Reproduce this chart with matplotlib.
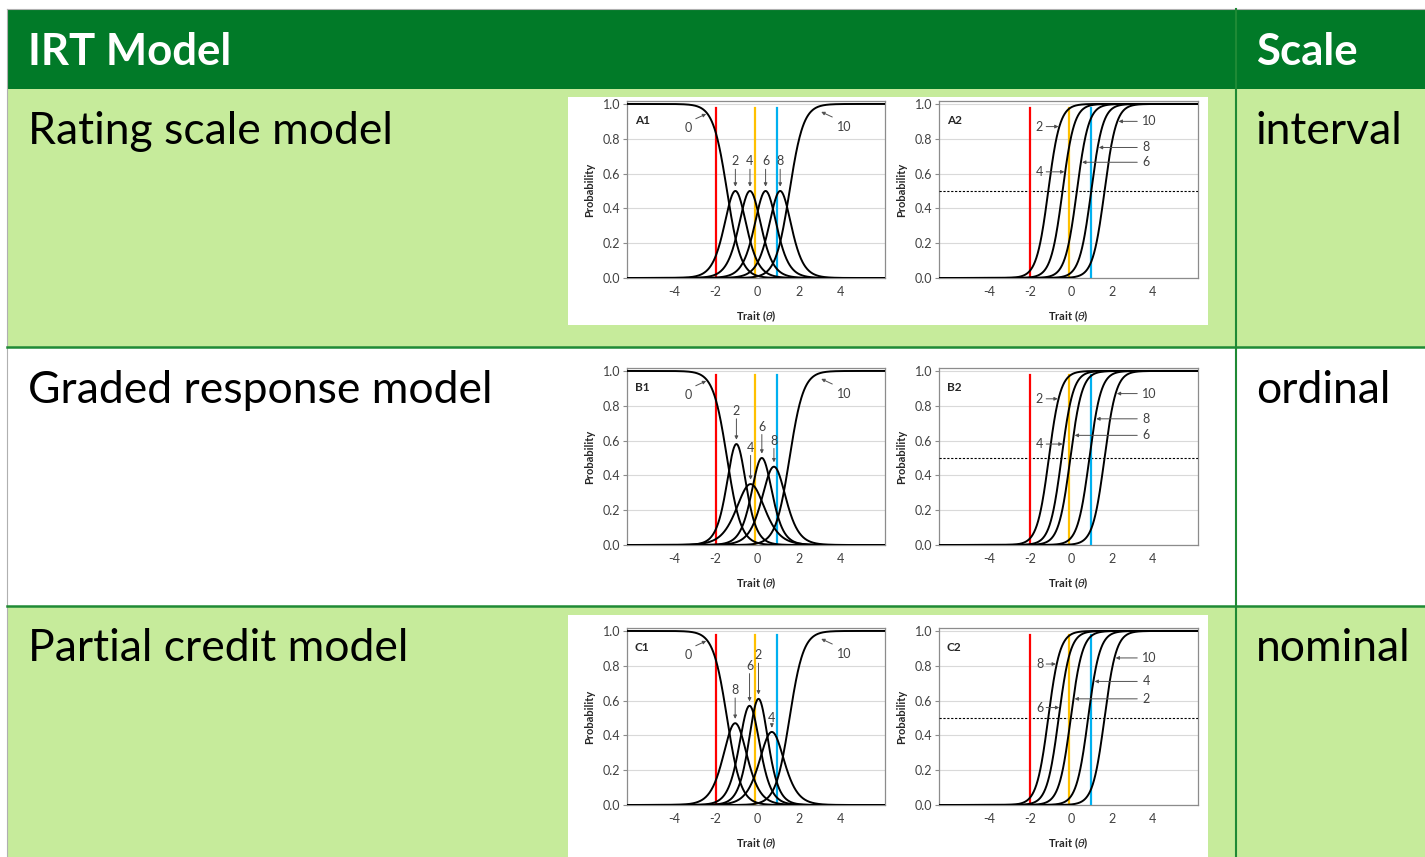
import matplotlib
matplotlib.use('Agg')
import matplotlib.pyplot as plt
import numpy as np
from matplotlib.patches import Rectangle

plt.rcParams['font.family'] = ['Lato', 'DejaVu Sans']
plt.rcParams['mathtext.fontset'] = 'dejavusans'

#--------------------------------- values ---------------------------------

models = ['Rating scale model', 'Graded response model', 'Partial credit model']
scales = ['interval', 'ordinal', 'nominal']
tags_left = ['A1', 'B1', 'C1']
tags_right = ['A2', 'B2', 'C2']

ref_theta = [-2.0, -0.1, 0.97]
ref_colors = ['#ff0000', '#ffc000', '#00b0f0']

y_ticks = [0.0, 0.2, 0.4, 0.6, 0.8, 1.0]
x_ticks = [-4, -2, 0, 2, 4]

# lowest ("0") and highest ("10") category in the *1 panels: theta where P = 0.5
low_mid = [-1.45, -1.45, -1.45]
high_mid = [1.55, 1.55, 1.55]
edge_slope = 3.0

# middle categories in the *1 panels
rsm_peak_lab = ['2', '4', '6', '8']
rsm_peak_x = [-1.05, -0.35, 0.4, 1.1]
rsm_peak_h = [0.5, 0.5, 0.5, 0.5]
rsm_peak_w = [1.39, 1.39, 1.39, 1.39]
rsm_lab_y = [0.67, 0.67, 0.67, 0.67]

grm_peak_lab = ['2', '4', '6', '8']
grm_peak_x = [-1.0, -0.32, 0.22, 0.8]
grm_peak_h = [0.58, 0.35, 0.5, 0.45]
grm_peak_w = [1.6, 1.1, 1.5, 1.3]
grm_lab_y = [0.77, 0.56, 0.68, 0.60]

pcm_peak_lab = ['8', '6', '2', '4']
pcm_peak_x = [-1.06, -0.37, 0.06, 0.7]
pcm_peak_h = [0.47, 0.57, 0.61, 0.42]
pcm_peak_w = [1.3, 1.5, 1.6, 1.25]
pcm_lab_y = [0.66, 0.80, 0.86, 0.50]

# cumulative curves in the *2 panels: theta where P = 0.5
cum_slope = 3.5

rsm_cum_lab = ['2', '4', '6', '8', '10']
rsm_cum_mid = [-1.1, -0.4, 0.3, 1.0, 1.65]
rsm_cum_lab_y = [0.87, 0.61, 0.665, 0.75, 0.90]
rsm_cum_side = ['L', 'L', 'R', 'R', 'R']

grm_cum_lab = ['2', '4', '6', '8', '10']
grm_cum_mid = [-1.07, -0.45, -0.02, 0.91, 1.65]
grm_cum_lab_y = [0.84, 0.58, 0.63, 0.725, 0.87]
grm_cum_side = ['L', 'L', 'R', 'R', 'R']

pcm_cum_lab = ['8', '6', '2', '4', '10']
pcm_cum_mid = [-1.1, -0.59, 0.0, 0.85, 1.65]
pcm_cum_lab_y = [0.81, 0.56, 0.61, 0.71, 0.845]
pcm_cum_side = ['L', 'L', 'R', 'R', 'R']

#--------------------------------- layout ---------------------------------

W, H = 1425, 857
DARK = '#017a28'
LIGHT = '#c6eb9b'
LINE = '#1f8a35'
TXT = '#404040'

fig = plt.figure(figsize=(W / 100, H / 100), dpi=100)
bg = fig.add_axes([0, 0, 1, 1])
bg.set_xlim(0, W)
bg.set_ylim(H, 0)
bg.axis('off')

bg.add_patch(Rectangle((7, 9), W - 7, 80, color=DARK, lw=0))
bg.add_patch(Rectangle((7, 89), W - 7, 258, color=LIGHT, lw=0))
bg.add_patch(Rectangle((7, 606), W - 7, H - 606, color=LIGHT, lw=0))
bg.plot([7, 7], [9, H], color='#b0b0b0', lw=0.8)
bg.plot([7, W], [9, 9], color='#b0b0b0', lw=0.8)
bg.plot([7, W], [347, 347], color=LINE, lw=1.8)
bg.plot([7, W], [606, 606], color=LINE, lw=1.8)
bg.plot([1236, 1236], [9, H], color=LINE, lw=1.5)

for top, bottom in [(97, 325), (357, 593), (615, H)]:
    bg.add_patch(Rectangle((568, top), 640, bottom - top, color='white', lw=0))

bg.text(28, 65, 'IRT Model', color='white', fontsize=31.5, fontweight='bold', va='baseline')
bg.text(1256, 65, 'Scale', color='white', fontsize=31.5, fontweight='bold', va='baseline')
for model, scale, base in zip(models, scales, [144, 403, 661]):
    bg.text(28, base, model, color='black', fontsize=32, va='baseline')
    bg.text(1256, base, scale, color='black', fontsize=32, va='baseline')


def px_axes(left, top, right, bottom):
    return fig.add_axes([left / W, 1 - bottom / H, (right - left) / W, (bottom - top) / H])


def logistic(x, mid, slope):
    return 1.0 / (1.0 + np.exp(-slope * (x - mid)))


def style_axes(ax, xlim, tag):
    ax.set_xlim(*xlim)
    ax.set_ylim(0, 1.017)
    ax.set_yticks(y_ticks)
    ax.set_yticklabels([f'{v:.1f}' for v in y_ticks])
    ax.set_xticks(x_ticks)
    ax.set_xticklabels([str(v) for v in x_ticks])
    ax.grid(axis='y', color='#d9d9d9', lw=0.8)
    ax.set_axisbelow(True)
    for sp in ax.spines.values():
        sp.set_color('#8c8c8c')
        sp.set_linewidth(0.9)
    ax.tick_params(axis='y', length=3, color='#8c8c8c', labelsize=9, labelcolor=TXT, pad=2)
    ax.tick_params(axis='x', length=0, labelsize=9, labelcolor=TXT, pad=6)
    ax.text(0.5, -38 / 177, 'Trait ($\\theta$)', transform=ax.transAxes, ha='center', va='center',
            fontsize=8, fontweight='bold', color='#262626')
    ax.text(-37 / 258, 0.5, 'Probability', transform=ax.transAxes, ha='center', va='center',
            rotation=90, fontsize=8, fontweight='bold', color='#262626')
    ax.text(0.03, 0.89, tag, transform=ax.transAxes, ha='left', va='center',
            fontsize=8.5, fontweight='bold', color='#262626')
    for t, c in zip(ref_theta, ref_colors):
        ax.plot([t, t], [0, 0.975], color=c, lw=1.6, zorder=4)


def arrow(ax, text, xy_text, tail, tip, ha='center', va='center'):
    ax.text(xy_text[0], xy_text[1], text, ha=ha, va=va, fontsize=9, color=TXT, zorder=6)
    ax.annotate('', xy=tip, xytext=tail,
                arrowprops=dict(arrowstyle='-|>', color='#505050', lw=0.7,
                                mutation_scale=5, shrinkA=0, shrinkB=0), zorder=6)


def category_panel(ax, row, labs, px, ph, pw, lab_y):
    x = np.linspace(-6.5, 6.5, 600)
    p0 = 1 - logistic(x, low_mid[row], edge_slope)
    p10 = logistic(x, high_mid[row], edge_slope)
    ax.plot(x, p0, color='black', lw=1.4, zorder=5)
    ax.plot(x, p10, color='black', lw=1.4, zorder=5)
    for m, h, w in zip(px, ph, pw):
        ax.plot(x, h / np.cosh(w * (x - m)) ** 2, color='black', lw=1.4, zorder=5)
    for lab, m, h, ly in zip(labs, px, ph, lab_y):
        arrow(ax, lab, (m, ly), (m, ly - 0.045), (m, h + 0.025))
    tip0 = 1 - logistic(-2.45, low_mid[row], edge_slope) - 0.01
    arrow(ax, '0', (-3.33, 0.86), (-2.95, 0.915), (-2.45, tip0))
    tip10 = logistic(3.07, high_mid[row], edge_slope) - 0.035
    arrow(ax, '10', (4.16, 0.87), (3.6, 0.925), (3.07, tip10))


def cumulative_panel(ax, labs, mids, lab_y, sides):
    x = np.linspace(-6.5, 6.5, 600)
    ax.axhline(0.5, color='black', ls=(0, (2, 1.5)), lw=0.8, zorder=3)
    for m in mids:
        ax.plot(x, logistic(x, m, cum_slope), color='black', lw=1.4, zorder=5)
    for lab, m, ly, side in zip(labs, mids, lab_y, sides):
        tip_x = m + np.log(ly / (1 - ly)) / cum_slope
        if side == 'L':
            arrow(ax, lab, (-1.35, ly), (-1.2, ly), (tip_x - 0.04, ly), ha='right')
        else:
            arrow(ax, lab, (3.5, ly), (3.25, ly), (tip_x + 0.06, ly), ha='left')


row_tops = [101, 368, 628]
left_panels = [
    (rsm_peak_lab, rsm_peak_x, rsm_peak_h, rsm_peak_w, rsm_lab_y),
    (grm_peak_lab, grm_peak_x, grm_peak_h, grm_peak_w, grm_lab_y),
    (pcm_peak_lab, pcm_peak_x, pcm_peak_h, pcm_peak_w, pcm_lab_y),
]
right_panels = [
    (rsm_cum_lab, rsm_cum_mid, rsm_cum_lab_y, rsm_cum_side),
    (grm_cum_lab, grm_cum_mid, grm_cum_lab_y, grm_cum_side),
    (pcm_cum_lab, pcm_cum_mid, pcm_cum_lab_y, pcm_cum_side),
]

for row, top in enumerate(row_tops):
    ax1 = px_axes(627, top, 885, top + 177)
    style_axes(ax1, (-6.25, 6.13), tags_left[row])
    category_panel(ax1, row, *left_panels[row])

    ax2 = px_axes(939, top, 1198, top + 177)
    style_axes(ax2, (-6.44, 6.22), tags_right[row])
    cumulative_panel(ax2, *right_panels[row])

fig.savefig('out.png', dpi=100)
